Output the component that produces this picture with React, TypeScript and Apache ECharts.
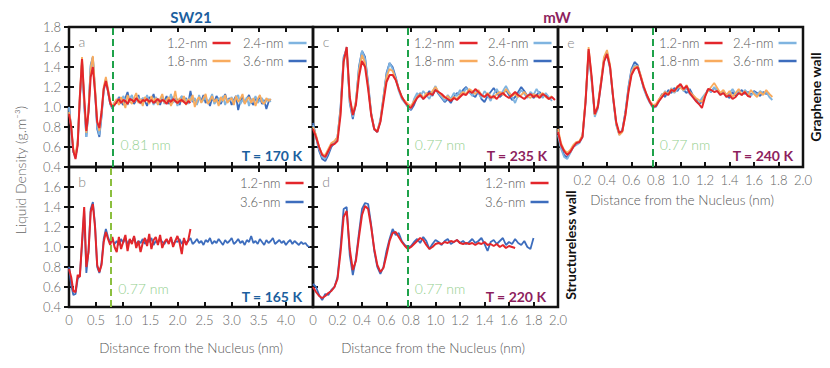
import React, { useEffect, useRef } from 'react';
import * as echarts from 'echarts';

const FONT = 'Lato, "Open Sans", sans-serif';
const STEP_AB = 0.04; // nm sampling of panels a, b
const STEP_CDE = 0.025; // nm sampling of panels c, d, e

const NAMES = ['1.2-nm', '1.8-nm', '2.4-nm', '3.6-nm'];
const COLORS: Record<string, string> = {
  '1.2-nm': '#e3262b',
  '1.8-nm': '#f8ab5e',
  '2.4-nm': '#7fb4e0',
  '3.6-nm': '#3d6dbd',
};

// ---------- Panel a : SW21, graphene wall, T = 170 K ----------
const aRed = [0.93, 0.80, 0.56, 0.48, 0.62, 1.10, 1.48, 1.10, 0.76, 0.95, 1.30, 1.40, 1.15, 0.85, 0.79, 0.95, 1.18, 1.26, 1.16, 1.04, 1.00, 1.02,
  1.05, 1.08, 1.04, 1.07, 1.06, 1.03, 1.08, 1.07, 1.05, 1.09, 1.06, 1.04, 1.07, 1.06, 1.08, 1.05, 1.07, 1.04, 1.06, 1.08, 1.05, 1.07, 1.06, 1.03, 1.07, 1.05, 1.08, 1.06, 1.04, 1.06, 1.07, 1.05, 1.03, 1.06, 1.04];
const aOrange = [0.95, 0.82, 0.58, 0.52, 0.66, 1.12, 1.50, 1.08, 0.74, 0.98, 1.38, 1.51, 1.20, 0.86, 0.76, 0.94, 1.20, 1.30, 1.18, 1.06, 1.01, 1.04,
  1.08, 1.02, 1.10, 1.05, 0.99, 1.12, 1.06, 1.03, 1.09, 1.14, 1.04, 1.08, 1.01, 1.10, 1.07, 1.03, 1.11, 1.05, 1.09, 1.02,
  1.08, 1.13, 1.04, 1.07, 1.10, 1.01, 1.06, 1.16, 1.03, 1.09, 1.05, 1.11, 1.02, 1.08, 1.06, 1.12, 1.00, 1.07, 1.10, 1.04,
  1.09, 1.13, 1.03, 1.06, 1.11, 1.05, 1.08, 1.01, 1.10, 1.06, 1.12, 1.04, 1.07, 1.09, 1.02, 1.11, 1.05, 1.08, 1.13, 1.03,
  1.07, 1.10, 1.04, 1.09, 1.01, 1.08, 1.12, 1.05, 1.03, 1.09, 1.06, 1.08];
const aLight = [1.00, 0.80, 0.55, 0.50, 0.64, 1.10, 1.47, 1.05, 0.70, 0.98, 1.40, 1.50, 1.18, 0.80, 0.72, 0.92, 1.18, 1.28, 1.16, 1.03, 0.99, 1.05,
  1.06, 1.09, 1.03, 1.11, 1.07, 1.02, 1.08, 1.12, 1.05, 1.07, 1.10, 1.03, 1.09, 1.06, 1.12, 1.04, 1.08, 1.02, 1.10, 1.07,
  1.05, 1.11, 1.03, 1.08, 1.06, 1.13, 1.04, 1.09, 1.01, 1.07, 1.11, 1.05, 1.08, 1.03, 1.10, 1.06, 1.09, 1.02, 1.12, 1.05,
  1.07, 1.10, 1.04, 1.08, 1.13, 1.03, 1.06, 1.09, 1.05, 1.11, 1.02, 1.08, 1.06, 1.10, 1.04, 1.09, 1.12, 1.03, 1.07, 1.05,
  1.10, 1.01, 1.08, 1.06, 1.11, 1.04, 1.07, 1.09, 1.03, 1.06, 1.08, 1.05];
const aDark = [0.99, 0.79, 0.55, 0.50, 0.63, 1.08, 1.45, 1.02, 0.70, 0.97, 1.42, 1.50, 1.16, 0.78, 0.70, 0.90, 1.16, 1.27, 1.15, 1.03, 0.98, 1.04,
  1.04, 1.10, 1.06, 1.02, 1.09, 1.15, 1.05, 1.08, 1.03, 1.07, 1.12, 1.04, 1.09, 1.06, 1.01, 1.10, 1.07, 1.13, 1.04, 1.08,
  1.02, 1.09, 1.06, 1.11, 1.03, 1.07, 1.10, 1.05, 1.08, 1.02, 1.11, 1.06, 1.09, 1.04, 1.16, 1.05, 1.08, 1.03, 1.10, 1.06,
  1.12, 1.04, 1.07, 1.01, 1.09, 1.05, 1.11, 1.07, 1.03, 1.08, 1.13, 1.05, 1.09, 1.02, 1.07, 1.11, 0.97, 1.06, 1.10, 1.04,
  1.08, 1.12, 1.05, 1.02, 1.09, 1.06, 1.10, 1.03, 1.07, 0.98, 1.05, 1.08];

// ---------- Panel b : SW21, structureless wall, T = 165 K ----------
const bRed = [0.78, 0.70, 0.56, 0.55, 0.72, 0.70, 1.05, 1.40, 0.80, 0.95, 1.35, 1.43, 1.20, 0.82, 0.75, 0.82, 1.05, 1.15, 1.08, 1.02, 1.10, 1.00,
  0.95, 1.10, 0.98, 1.05, 1.12, 0.96, 1.08, 1.03, 1.11, 0.99, 1.06, 0.95, 1.04, 1.09, 1.01, 1.13, 0.98, 1.07, 1.10, 1.02,
  1.12, 0.99, 1.05, 1.08, 1.03, 1.10, 1.00, 1.06, 1.11, 1.04, 0.93, 1.09, 1.02, 1.07, 1.18];
const bDark = [0.80, 0.62, 0.52, 0.53, 0.68, 0.72, 1.02, 1.36, 0.74, 0.96, 1.38, 1.45, 1.22, 0.80, 0.74, 0.84, 1.08, 1.18, 1.10, 1.04, 1.07, 1.03,
  1.06, 1.02, 1.08, 1.04, 1.09, 1.03, 1.07, 1.05, 1.10, 1.02, 1.06, 1.04, 1.08, 1.03, 1.07, 1.05, 1.09, 1.02, 1.06, 1.04,
  1.08, 1.05, 1.03, 1.07, 1.04, 1.09, 1.02, 1.06, 1.05, 1.08, 1.03, 1.07, 1.04, 1.06, 1.09, 1.03, 1.05, 1.08, 1.04, 1.06,
  1.02, 1.07, 1.05, 1.09, 1.03, 1.06, 1.04, 1.08, 1.05, 1.02, 1.07, 1.04, 1.06, 1.09, 1.03, 1.05, 1.08, 1.04, 1.06, 1.02,
  1.07, 1.05, 1.11, 1.04, 1.06, 1.03, 1.08, 1.05, 1.02, 1.07, 1.04, 1.06, 1.09, 1.03, 1.05, 1.07, 1.04, 1.06, 1.02, 1.05,
  1.07, 1.03, 1.06, 1.04, 1.02, 1.05, 1.03, 1.04, 1.01, 1.00];

// ---------- Panel c : mW, graphene wall, T = 235 K ----------
const cRed = [0.78, 0.70, 0.60, 0.52, 0.50, 0.56, 0.62, 0.63, 0.66, 0.92, 1.45, 1.60, 1.10, 0.92, 1.02, 1.30, 1.46, 1.40, 1.18, 0.92, 0.78, 0.75, 0.85, 1.05, 1.25, 1.32, 1.32, 1.27, 1.18, 1.10, 1.05, 1.01, 0.99,
  1.04, 1.09, 1.12, 1.08, 1.11, 1.14, 1.12, 1.17, 1.15, 1.13, 1.10, 1.08, 1.06, 1.09, 1.07, 1.10, 1.13, 1.12, 1.16, 1.14, 1.18, 1.15, 1.12, 1.10,
  1.13, 1.09, 1.11, 1.08, 1.12, 1.14, 1.11, 1.09, 1.12, 1.15, 1.12, 1.10, 1.08, 1.11, 1.13, 1.10, 1.12, 1.09, 1.13, 1.11, 1.08, 1.10, 1.07];
const cOrange = [0.80, 0.72, 0.60, 0.53, 0.52, 0.58, 0.64, 0.66, 0.70, 0.96, 1.46, 1.58, 1.08, 0.93, 1.05, 1.35, 1.52, 1.44, 1.20, 0.93, 0.78, 0.76, 0.86, 1.08, 1.30, 1.38, 1.36, 1.28, 1.18, 1.10, 1.06, 1.03, 1.01,
  1.06, 1.10, 1.13, 1.09, 1.14, 1.12, 1.16, 1.20, 1.15, 1.12, 1.09, 1.11, 1.07, 1.10, 1.08, 1.12, 1.15, 1.13, 1.18, 1.16, 1.13, 1.17, 1.12, 1.10,
  1.14, 1.11, 1.09, 1.13, 1.15, 1.12, 1.18, 1.14, 1.11, 1.13, 1.10, 1.12, 1.15, 1.11, 1.09, 1.13, 1.10, 1.12, 1.14, 1.10, 1.08, 1.11];
const cLight = [0.82, 0.70, 0.58, 0.50, 0.48, 0.55, 0.62, 0.65, 0.70, 0.98, 1.48, 1.60, 1.05, 0.90, 1.06, 1.38, 1.56, 1.48, 1.22, 0.92, 0.77, 0.76, 0.88, 1.10, 1.32, 1.44, 1.38, 1.28, 1.16, 1.08, 1.04, 1.00, 0.98,
  1.08, 1.14, 1.10, 1.16, 1.12, 1.08, 1.15, 1.21, 1.14, 1.10, 1.06, 1.12, 1.08, 1.14, 1.11, 1.17, 1.13, 1.19, 1.15, 1.11, 1.17, 1.14, 1.09, 1.16,
  1.12, 1.06, 1.13, 1.18, 1.12, 1.16, 1.21, 1.15, 1.10, 1.04, 1.12, 1.17, 1.13, 1.09, 1.15, 1.12, 1.18, 1.13, 1.09, 1.14, 1.10, 1.06];
const cDark = [0.84, 0.70, 0.56, 0.48, 0.46, 0.52, 0.60, 0.64, 0.70, 1.00, 1.50, 1.58, 1.04, 0.88, 1.04, 1.40, 1.56, 1.50, 1.24, 0.94, 0.78, 0.75, 0.86, 1.10, 1.34, 1.44, 1.40, 1.30, 1.18, 1.10, 1.05, 1.00, 0.97,
  1.02, 1.10, 1.14, 1.08, 1.12, 1.16, 1.11, 1.18, 1.13, 1.09, 1.05, 1.08, 1.04, 1.10, 1.14, 1.12, 1.17, 1.20, 1.15, 1.12, 1.10, 1.16, 1.08, 1.05,
  1.11, 1.15, 1.19, 1.14, 1.10, 1.13, 1.17, 1.12, 1.07, 1.10, 1.15, 1.20, 1.16, 1.11, 1.13, 1.09, 1.12, 1.15, 1.10, 1.13, 1.08, 1.10];

// ---------- Panel d : mW, structureless wall, T = 220 K ----------
const dRed = [0.60, 0.55, 0.51, 0.49, 0.51, 0.54, 0.56, 0.60, 0.68, 0.95, 1.30, 1.36, 0.98, 0.77, 0.86, 1.10, 1.32, 1.41, 1.38, 1.20, 0.98, 0.82, 0.75, 0.79, 0.92, 1.06, 1.14, 1.15, 1.10, 1.05, 1.01, 0.98, 1.00,
  1.03, 1.06, 1.09, 1.07, 1.02, 0.98, 1.00, 1.03, 1.04, 1.03, 1.05, 1.04, 1.06, 1.05, 1.07, 1.04, 1.03, 1.04, 1.03, 1.04, 1.02, 1.04, 1.03, 1.05,
  1.02, 1.03, 1.01, 1.03, 1.00, 1.02, 0.99, 1.01, 1.00, 0.99];
const dDark = [0.63, 0.60, 0.52, 0.47, 0.53, 0.52, 0.57, 0.60, 0.70, 1.00, 1.38, 1.40, 0.92, 0.72, 0.88, 1.14, 1.38, 1.44, 1.43, 1.22, 0.96, 0.80, 0.73, 0.80, 0.96, 1.08, 1.18, 1.12, 1.14, 1.06, 1.02, 1.00, 1.01,
  1.05, 1.08, 1.04, 1.10, 1.06, 0.98, 1.03, 1.07, 1.05, 1.02, 1.06, 1.08, 1.03, 1.05, 1.07, 1.04, 1.06, 1.03, 1.05, 1.08, 1.04, 1.06, 1.09, 1.03,
  0.96, 1.05, 1.07, 1.03, 1.06, 1.09, 1.02, 1.05, 1.03, 1.08, 1.04, 1.02, 1.06, 1.00, 0.98, 1.09];

// ---------- Panel e : mW, graphene wall, T = 240 K ----------
const eRed = [0.75, 0.62, 0.56, 0.52, 0.55, 0.60, 0.64, 0.65, 0.70, 1.05, 1.58, 1.30, 0.93, 1.00, 1.22, 1.45, 1.53, 1.40, 1.10, 0.85, 0.74, 0.76, 0.92, 1.15, 1.32, 1.38, 1.40, 1.30, 1.20, 1.12, 1.05, 1.00, 1.01,
  1.06, 1.10, 1.14, 1.12, 1.17, 1.16, 1.20, 1.23, 1.18, 1.21, 1.14, 1.10, 1.06, 1.03, 0.99, 1.10, 1.18, 1.17, 1.15, 1.16, 1.12, 1.14, 1.10, 1.12,
  1.08, 1.10, 1.14, 1.12, 1.15, 1.11, 1.10];
const eOrange = [0.78, 0.64, 0.57, 0.54, 0.57, 0.62, 0.65, 0.66, 0.72, 1.08, 1.60, 1.28, 0.92, 1.02, 1.25, 1.50, 1.57, 1.42, 1.10, 0.84, 0.72, 0.75, 0.92, 1.16, 1.34, 1.40, 1.41, 1.32, 1.21, 1.12, 1.06, 1.02, 1.03,
  1.08, 1.12, 1.15, 1.13, 1.18, 1.15, 1.21, 1.19, 1.17, 1.22, 1.15, 1.12, 1.09, 1.07, 1.05, 1.12, 1.16, 1.20, 1.24, 1.19, 1.14, 1.17, 1.12, 1.16,
  1.10, 1.14, 1.18, 1.12, 1.16, 1.11, 1.17, 1.13, 1.10, 1.15, 1.12, 1.17, 1.13, 1.10];
const eLight = [0.72, 0.58, 0.50, 0.48, 0.54, 0.60, 0.62, 0.64, 0.70, 1.05, 1.55, 1.25, 0.90, 0.98, 1.22, 1.46, 1.52, 1.38, 1.08, 0.82, 0.72, 0.76, 0.94, 1.18, 1.36, 1.42, 1.40, 1.30, 1.18, 1.10, 1.04, 0.99, 1.00,
  1.06, 1.11, 1.16, 1.12, 1.19, 1.14, 1.18, 1.22, 1.16, 1.19, 1.13, 1.10, 1.06, 1.04, 1.09, 1.13, 1.17, 1.15, 1.20, 1.16, 1.12, 1.15, 1.10, 1.14,
  1.18, 1.13, 1.16, 1.12, 1.17, 1.14, 1.11, 1.15, 1.12, 1.16, 1.13, 1.15, 1.10, 1.07];
const eDark = [0.76, 0.60, 0.52, 0.49, 0.55, 0.61, 0.63, 0.65, 0.71, 1.06, 1.56, 1.27, 0.92, 1.00, 1.24, 1.48, 1.55, 1.40, 1.09, 0.83, 0.73, 0.77, 0.95, 1.20, 1.38, 1.45, 1.42, 1.31, 1.19, 1.11, 1.05, 1.00, 1.01,
  1.07, 1.13, 1.10, 1.17, 1.14, 1.19, 1.16, 1.21, 1.17, 1.14, 1.18, 1.12, 1.08, 1.03, 1.05, 1.11, 1.18, 1.15, 1.19, 1.17, 1.13, 1.16, 1.12, 1.09,
  1.15, 1.11, 1.14, 1.17, 1.13, 1.15, 1.12, 1.16, 1.14, 1.11, 1.15, 1.13, 1.14];

// layer markers (nm) and panel annotations
const LAYER = [0.81, 0.77, 0.77, 0.77, 0.77];
const LAYER_LABELS = ['0.81 nm', '0.77 nm', '0.77 nm', '0.77 nm', '0.77 nm'];
const TEMPS = ['T = 170 K', 'T = 165 K', 'T = 235 K', 'T = 220 K', 'T = 240 K'];
const LETTERS = ['a', 'b', 'c', 'd', 'e'];
const X_MAX = [4.5, 4.5, 2.0, 2.0, 2.0];
const X_INT = [0.5, 0.5, 0.2, 0.2, 0.2];
const Y_TICKS = { min: 0.4, max: 1.8, interval: 0.2 };

const SW_BLUE = '#1c5f9e';
const MW_PURPLE = '#8e1f5e';

// panel geometry (px)
const GRIDS = [
  { left: 69, top: 27, width: 244, height: 140 },
  { left: 69, top: 167, width: 244, height: 140 },
  { left: 313, top: 27, width: 245, height: 140 },
  { left: 313, top: 167, width: 245, height: 140 },
  { left: 558, top: 27, width: 245, height: 140 },
];

const PANEL_SERIES: [string, number[]][][] = [
  [['3.6-nm', aDark], ['2.4-nm', aLight], ['1.8-nm', aOrange], ['1.2-nm', aRed]],
  [['3.6-nm', bDark], ['1.2-nm', bRed]],
  [['3.6-nm', cDark], ['2.4-nm', cLight], ['1.8-nm', cOrange], ['1.2-nm', cRed]],
  [['3.6-nm', dDark], ['1.2-nm', dRed]],
  [['3.6-nm', eDark], ['2.4-nm', eLight], ['1.8-nm', eOrange], ['1.2-nm', eRed]],
];
const STEPS = [STEP_AB, STEP_AB, STEP_CDE, STEP_CDE, STEP_CDE];

const fmt = (v: number) => (Math.abs(v) < 1e-9 ? '0' : v.toFixed(1));

export default function App() {
  const ref = useRef<HTMLDivElement>(null);
  useEffect(() => {
    if (!ref.current) return;
    const chart = echarts.init(ref.current, undefined, { renderer: 'svg' });

    const tick = { show: true, inside: true, length: 5, lineStyle: { color: '#111', width: 2 } };
    const labelStyle = { color: '#666', fontSize: 13, fontFamily: FONT, fontWeight: 300 as any };

    const xAxes: any[] = [];
    const yAxes: any[] = [];
    GRIDS.forEach((_, p) => {
      const showX = p === 1 || p === 3 || p === 4;
      xAxes.push({
        type: 'value', gridIndex: p, position: 'bottom', min: 0, max: X_MAX[p], interval: X_INT[p],
        axisLine: { show: false }, splitLine: { show: false }, axisTick: tick,
        axisLabel: {
          show: showX, ...labelStyle, margin: 6, formatter: fmt,
          showMaxLabel: p !== 1, showMinLabel: p !== 4,
        },
      });
    });
    GRIDS.forEach((_, p) => {
      xAxes.push({
        type: 'value', gridIndex: p, position: 'top', min: 0, max: X_MAX[p], interval: X_INT[p],
        axisLine: { show: false }, splitLine: { show: false }, axisTick: tick, axisLabel: { show: false },
      });
    });
    GRIDS.forEach((_, p) => {
      yAxes.push({
        type: 'value', gridIndex: p, position: 'left', ...Y_TICKS,
        axisLine: { show: false }, splitLine: { show: false }, axisTick: tick,
        axisLabel: {
          show: p === 0 || p === 1, ...labelStyle, margin: 8, formatter: fmt,
          showMaxLabel: p !== 1, padding: [6, 0, 0, 0],
        },
      });
    });
    GRIDS.forEach((_, p) => {
      yAxes.push({
        type: 'value', gridIndex: p, position: 'right', ...Y_TICKS,
        axisLine: { show: false }, splitLine: { show: false }, axisTick: tick, axisLabel: { show: false },
      });
    });

    const series: any[] = [];
    PANEL_SERIES.forEach((list, p) => {
      list.forEach(([name, ys], k) => {
        const color = COLORS[name];
        const last = k === list.length - 1;
        const s: any = {
          type: 'line', name, xAxisIndex: p, yAxisIndex: p,
          data: ys.map((y, i) => [+(i * STEPS[p]).toFixed(3), y]),
          symbol: 'none', showSymbol: false, color,
          lineStyle: { color, width: name === '1.2-nm' ? 2 : 1.8 },
          itemStyle: { color },
        };
        if (last) {
          s.markLine = {
            silent: true, symbol: ['none', 'none'],
            label: { show: false },
            lineStyle: { color: p === 1 ? '#8cbf3f' : '#1fa24a', width: 2, type: [7, 4] },
            data: [{ xAxis: LAYER[p] }],
          };
          s.markPoint = {
            silent: true, symbol: 'circle', symbolSize: 1,
            itemStyle: { color: 'rgba(0,0,0,0)' },
            label: {
              show: true, position: 'right', distance: 7, formatter: LAYER_LABELS[p],
              color: '#93cf8e', fontSize: 14, fontFamily: FONT, fontWeight: 300,
            },
            data: [{ coord: [LAYER[p], p === 1 || p === 3 ? 0.585 : 0.63] }],
          };
        }
        series.push(s);
      });
    });

    const legendCol = (left: number, top: number, data: string[]) => ({
      orient: 'vertical', left, top, data, padding: 0, itemGap: 2,
      itemWidth: 18, itemHeight: 2.5, icon: 'rect', align: 'right', selectedMode: false,
      textStyle: { fontSize: 13, color: '#555', fontFamily: FONT, fontWeight: 300, lineHeight: 16 },
    });
    const legends = [
      legendCol(167, 35, ['1.2-nm', '1.8-nm']),
      legendCol(243, 35, ['2.4-nm', '3.6-nm']),
      { ...legendCol(240, 175, ['1.2-nm', '3.6-nm']), itemGap: 3 },
      legendCol(414, 35, ['1.2-nm', '1.8-nm']),
      legendCol(488, 35, ['2.4-nm', '3.6-nm']),
      { ...legendCol(485, 175, ['1.2-nm', '3.6-nm']), itemGap: 3 },
      legendCol(659, 35, ['1.2-nm', '1.8-nm']),
      legendCol(733, 35, ['2.4-nm', '3.6-nm']),
    ];

    const txt = (x: number, y: number, text: string, style: any, rotation = 0) => ({
      type: 'text', x, y, rotation, silent: true,
      style: {
        text, fontFamily: FONT, textAlign: 'center', align: 'center',
        textVerticalAlign: 'middle', verticalAlign: 'middle', ...style,
      },
    });

    const tempPos = [[302, 155], [302, 296], [547, 155], [546, 296], [793, 155]];
    const letterPos = [[82, 41], [82, 181], [326, 41], [326, 181], [571, 42]];
    const graphics: any[] = [
      txt(191, 17, 'SW21', { fill: SW_BLUE, fontSize: 15, fontWeight: 'bold' }),
      txt(557, 17, 'mW', { fill: MW_PURPLE, fontSize: 15, fontWeight: 'bold' }),
      txt(20, 170, 'Liquid Density (g.m⁻³)', { fill: '#666', fontSize: 14, fontWeight: 300 }, Math.PI / 2),
      txt(191, 348, 'Distance from the Nucleus (nm)', { fill: '#555', fontSize: 13.5, fontWeight: 300 }),
      txt(433, 348, 'Distance from the Nucleus (nm)', { fill: '#555', fontSize: 13.5, fontWeight: 300 }),
      txt(682, 200, 'Distance from the Nucleus (nm)', { fill: '#555', fontSize: 13.5, fontWeight: 300 }),
      txt(815, 97, 'Graphene wall', { fill: '#111', fontSize: 14, fontWeight: 'bold' }, Math.PI / 2),
      txt(570, 245, 'Structureless wall', { fill: '#111', fontSize: 14, fontWeight: 'bold' }, Math.PI / 2),
    ];
    TEMPS.forEach((t, p) => {
      graphics.push(txt(tempPos[p][0], tempPos[p][1], t, {
        fill: p < 2 ? SW_BLUE : MW_PURPLE, fontSize: 14, fontWeight: 'bold', textAlign: 'right', align: 'right',
      }));
      graphics.push(txt(letterPos[p][0], letterPos[p][1], LETTERS[p], { fill: '#888', fontSize: 14, fontWeight: 300 }));
    });

    chart.setOption({
      animation: false,
      backgroundColor: '#fff',
      grid: GRIDS.map((g) => ({ ...g, show: true, borderColor: '#111', borderWidth: 2.5, backgroundColor: 'transparent' })),
      xAxis: xAxes,
      yAxis: yAxes,
      legend: legends,
      series,
      graphic: graphics,
    });
    return () => chart.dispose();
  }, []);
  return <div ref={ref} style={{ position: 'absolute', left: 0, top: 0, width: 830, height: 368 }} />;
}
